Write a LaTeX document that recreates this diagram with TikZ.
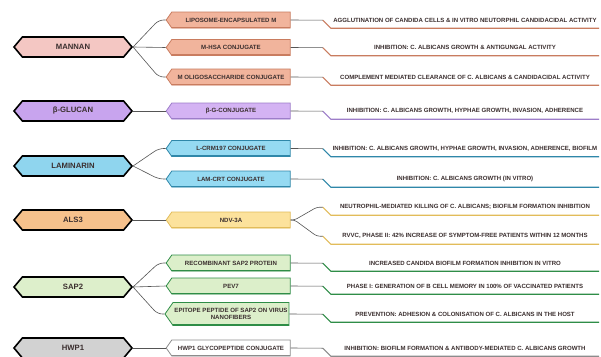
\documentclass[tikz,border=0pt]{standalone}
\usepackage{fontspec}
\setmainfont{Liberation Sans}
\usetikzlibrary{shapes.symbols,calc}
\definecolor{vxtext}{HTML}{3A2E2E}
\definecolor{vxlink}{HTML}{555555}
\definecolor{mannanA}{HTML}{F4C7C3}
\definecolor{mannanB}{HTML}{F1B49C}
\definecolor{mannanD}{HTML}{C97C5F}
\definecolor{glucanA}{HTML}{C8A4EE}
\definecolor{glucanB}{HTML}{D4B3F3}
\definecolor{glucanD}{HTML}{9D7DC9}
\definecolor{lamA}{HTML}{8FD5EE}
\definecolor{lamB}{HTML}{95DAF2}
\definecolor{lamD}{HTML}{2F87A9}
\definecolor{alsA}{HTML}{F6C18C}
\definecolor{alsB}{HTML}{FCE29C}
\definecolor{alsD}{HTML}{E2BC5A}
\definecolor{sapA}{HTML}{DDEFCB}
\definecolor{sapB}{HTML}{DCEFCA}
\definecolor{sapD}{HTML}{2F8D47}
\definecolor{hwpA}{HTML}{D2D2D2}
\definecolor{hwpB}{HTML}{FFFFFF}
\definecolor{hwpD}{HTML}{8C8C8C}
\begin{document}
\begin{tikzpicture}[
  x=1pt,y=-1pt,
  every node/.style={text=vxtext},
  antigen/.style={signal,signal to=west and east,signal pointer angle=100,draw=black,
                  line width=1.6pt,minimum width=118,minimum height=20,inner sep=0pt,
                  font=\fontsize{7.7}{8.4}\selectfont\bfseries},
  vaccine/.style={signal,signal to=west,signal pointer angle=110,draw=#1,line width=0.8pt,
                  minimum width=124,minimum height=16,inner sep=1pt,align=center,
                  font=\fontsize{6.1}{6.9}\selectfont\bfseries,
                  path picture={\draw[#1,line width=2.4pt] (path picture bounding box.south west)
                                -- (path picture bounding box.south east);}},
  outcome/.style={minimum width=268,minimum height=16,inner sep=0pt,
                  font=\fontsize{6.05}{6.8}\selectfont\bfseries},
  link/.style={draw=vxlink,line width=0.6pt},
  uline/.style={draw=#1,line width=1.2pt},
]
  \fill[white] (0,0) rectangle (601,356);
  \useasboundingbox (0,0) rectangle (601,356);

  % Mannan
  \node[antigen,fill=mannanA] (mannan) at (73,47) {MANNAN};
  \node[vaccine=mannanD,fill=mannanB] (lipo) at (231,20) {LIPOSOME-ENCAPSULATED M};
  \node[vaccine=mannanD,fill=mannanB] (mhsa) at (231,47.5) {M-HSA CONJUGATE};
  \node[vaccine=mannanD,fill=mannanB] (moligo) at (231,77) {M OLIGOSACCHARIDE CONJUGATE};
  \node[outcome] (agglu) at (465,20) {AGGLUTINATION OF CANDIDA CELLS \& IN VITRO NEUTORPHIL CANDIDACIDAL ACTIVITY};
  \node[outcome] (antif) at (465,47.5) {INHIBITION: C. ALBICANS GROWTH \& ANTIGUNGAL ACTIVITY};
  \node[outcome] (clear) at (465,77) {COMPLEMENT MEDIATED CLEARANCE OF C. ALBICANS \& CANDIDACIDAL ACTIVITY};

  % Beta-glucan
  \node[antigen,fill=glucanA] (glucan) at (73,111) {β-GLUCAN};
  \node[vaccine=glucanD,fill=glucanB] (bg) at (231,111) {β-G-CONJUGATE};
  \node[outcome] (hyphae) at (465,111) {INHIBITION: C. ALBICANS GROWTH, HYPHAE GROWTH, INVASION, ADHERENCE};

  % Laminarin
  \node[antigen,fill=lamA] (lamin) at (73,166) {LAMINARIN};
  \node[vaccine=lamD,fill=lamB] (lcrm) at (231,148.5) {L-CRM197 CONJUGATE};
  \node[vaccine=lamD,fill=lamB] (lamcrt) at (231,179) {LAM-CRT CONJUGATE};
  \node[outcome] (biofilm) at (465,148.5) {INHIBITION: C. ALBICANS GROWTH, HYPHAE GROWTH, INVASION, ADHERENCE, BIOFILM};
  \node[outcome] (invitro) at (465,179) {INHIBITION: C. ALBICANS GROWTH (IN VITRO)};

  % Als3
  \node[antigen,fill=alsA] (als) at (73,220) {ALS3};
  \node[vaccine=alsD,fill=alsB] (ndv) at (231,220) {NDV-3A};
  \node[outcome] (neutro) at (465,207) {NEUTROPHIL-MEDIATED KILLING OF C. ALBICANS; BIOFILM FORMATION INHIBITION};
  \node[outcome] (rvvc) at (465,236) {RVVC, PHASE II: 42\% INCREASE OF SYMPTOM-FREE PATIENTS WITHIN 12 MONTHS};

  % Sap2
  \node[antigen,fill=sapA] (sap) at (73,287) {SAP2};
  \node[vaccine=sapD,fill=sapB] (recomb) at (231,263) {RECOMBINANT SAP2 PROTEIN};
  \node[vaccine=sapD,fill=sapB] (pev) at (231,286) {PEV7};
  \node[vaccine=sapD,fill=sapB,minimum height=23] (epitope) at (231,314) {EPITOPE PEPTIDE OF SAP2 ON VIRUS\\NANOFIBERS};
  \node[outcome] (increased) at (465,263) {INCREASED CANDIDA BIOFILM FORMATION INHIBITION IN VITRO};
  \node[outcome] (phase) at (465,286) {PHASE I: GENERATION OF B CELL MEMORY IN 100\% OF VACCINATED PATIENTS};
  \node[outcome] (prevent) at (465,314) {PREVENTION: ADHESION \& COLONISATION OF C. ALBICANS IN THE HOST};

  % Hwp1
  \node[antigen,fill=hwpA] (hwp) at (73,348) {HWP1};
  \node[vaccine=hwpD,fill=hwpB] (hwpgly) at (231,348) {HWP1 GLYCOPEPTIDE CONJUGATE};
  \node[outcome] (hwpinh) at (465,348) {INHIBITION: BIOFILM FORMATION \& ANTIBODY-MEDIATED C. ALBICANS GROWTH};

  % Antigens to vaccines
  \draw[link,rounded corners=5pt] (mannan.east) -- ($(lipo.west)+(-7,0)$) -- (lipo.west);
  \draw[link] (mannan.east) -- (mhsa.west);
  \draw[link,rounded corners=5pt] (mannan.east) -- ($(moligo.west)+(-7,0)$) -- (moligo.west);
  \draw[link] (glucan.east) -- (bg.west);
  \draw[link,rounded corners=5pt] (lamin.east) -- ($(lcrm.west)+(-7,0)$) -- (lcrm.west);
  \draw[link,rounded corners=5pt] (lamin.east) -- ($(lamcrt.west)+(-7,0)$) -- (lamcrt.west);
  \draw[link] (als.east) -- (ndv.west);
  \draw[link,rounded corners=5pt] (sap.east) -- ($(recomb.west)+(-7,0)$) -- (recomb.west);
  \draw[link] (sap.east) -- (pev.west);
  \draw[link,rounded corners=5pt] (sap.east) -- ($(epitope.west)+(-7,0)$) -- (epitope.west);
  \draw[link] (hwp.east) -- (hwpgly.west);

  % Vaccines to outcomes
  \draw[link] (lipo.east) -- ($(agglu.south west)+(-8,-8)$);
  \draw[uline=mannanD] ($(agglu.south west)+(-8,-8)$) -- (agglu.south west) -- (agglu.south east);
  \draw[link] (mhsa.east) -- ($(antif.south west)+(-8,-8)$);
  \draw[uline=mannanD] ($(antif.south west)+(-8,-8)$) -- (antif.south west) -- (antif.south east);
  \draw[link] (moligo.east) -- ($(clear.south west)+(-8,-8)$);
  \draw[uline=mannanD] ($(clear.south west)+(-8,-8)$) -- (clear.south west) -- (clear.south east);
  \draw[link] (bg.east) -- ($(hyphae.south west)+(-8,-8)$);
  \draw[uline=glucanD] ($(hyphae.south west)+(-8,-8)$) -- (hyphae.south west) -- (hyphae.south east);
  \draw[link] (lcrm.east) -- ($(biofilm.south west)+(-8,-8)$);
  \draw[uline=lamD] ($(biofilm.south west)+(-8,-8)$) -- (biofilm.south west) -- (biofilm.south east);
  \draw[link] (lamcrt.east) -- ($(invitro.south west)+(-8,-8)$);
  \draw[uline=lamD] ($(invitro.south west)+(-8,-8)$) -- (invitro.south west) -- (invitro.south east);
  \draw[link,rounded corners=3pt] (ndv.east) -- ++(4,0) -- ($(neutro.south west)+(-14,-8)$) -- ($(neutro.south west)+(-8,-8)$);
  \draw[uline=alsD] ($(neutro.south west)+(-8,-8)$) -- (neutro.south west) -- (neutro.south east);
  \draw[link,rounded corners=3pt] (ndv.east) -- ++(4,0) -- ($(rvvc.south west)+(-14,-8)$) -- ($(rvvc.south west)+(-8,-8)$);
  \draw[uline=alsD] ($(rvvc.south west)+(-8,-8)$) -- (rvvc.south west) -- (rvvc.south east);
  \draw[link] (recomb.east) -- ($(increased.south west)+(-8,-8)$);
  \draw[uline=sapD] ($(increased.south west)+(-8,-8)$) -- (increased.south west) -- (increased.south east);
  \draw[link] (pev.east) -- ($(phase.south west)+(-8,-8)$);
  \draw[uline=sapD] ($(phase.south west)+(-8,-8)$) -- (phase.south west) -- (phase.south east);
  \draw[link] (epitope.east) -- ($(prevent.south west)+(-8,-8)$);
  \draw[uline=sapD] ($(prevent.south west)+(-8,-8)$) -- (prevent.south west) -- (prevent.south east);
  \draw[link] (hwpgly.east) -- ($(hwpinh.south west)+(-8,-8)$);
  \draw[uline=hwpD] ($(hwpinh.south west)+(-8,-8)$) -- (hwpinh.south west) -- (hwpinh.south east);
\end{tikzpicture}
\end{document}
